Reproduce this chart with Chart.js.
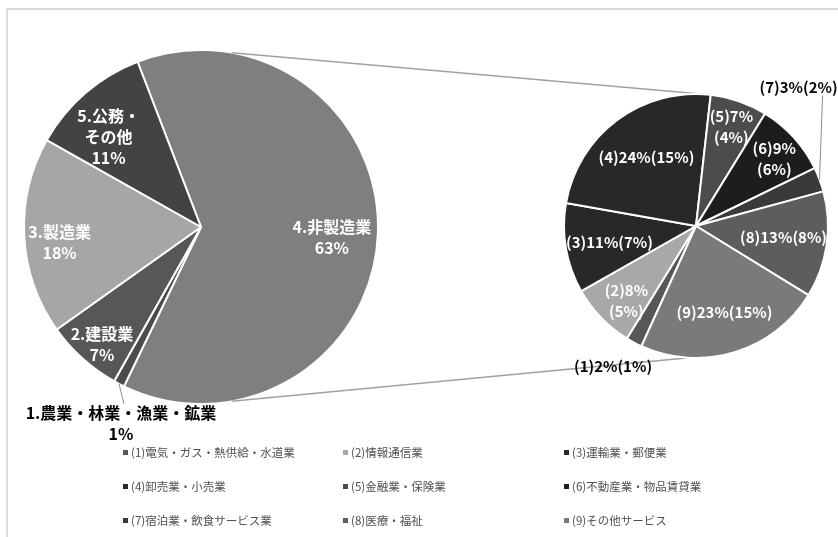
<!DOCTYPE html>
<html lang="ja">
<head>
<meta charset="utf-8">
<script src="https://cdn.jsdelivr.net/npm/chart.js@4.4.1/dist/chart.umd.min.js"></script>
<style>
  html, body { margin: 0; padding: 0; background: #fff; }
  #wrap { position: relative; width: 838px; height: 537px; overflow: hidden; font-family: "Noto Sans CJK JP", sans-serif; }
  #frame { position: absolute; left: 6px; top: 8px; width: 900px; height: 600px; border-left: 2px solid #dadada; border-top: 2px solid #dadada; }
  canvas { position: absolute; left: 0; top: 0; }
  .legend-item { position: absolute; font-size: 11.5px; line-height: 14px; color: #505050; white-space: nowrap; }
  .legend-item i { display: inline-block; width: 5px; height: 5px; margin-right: 3px; vertical-align: middle; position: relative; top: -1px; }
</style>
</head>
<body>
<div id="wrap">
  <div id="frame"></div>
  <canvas id="mainPie" width="838" height="537"></canvas>
  <canvas id="subPie" width="838" height="537"></canvas>
  <div id="legend"></div>
</div>
<script>
// 産業別構成比（左：全体、右：非製造業の内訳）
const mainNames = ['4.非製造業', '1.農業・林業・漁業・鉱業', '2.建設業', '3.製造業', '5.公務・\nその他'];
const mainShare = [63, 1, 7, 18, 11];
const mainColors = ['#7f7f7f', '#4b4b4b', '#575757', '#a6a6a6', '#434343'];

const subNames = ['電気・ガス・熱供給・水道業', '情報通信業', '運輸業・郵便業', '卸売業・小売業', '金融業・保険業',
                  '不動産業・物品賃貸業', '宿泊業・飲食サービス業', '医療・福祉', 'その他サービス'];
const subShare = [2, 8, 11, 24, 7, 9, 3, 13, 23];       // 非製造業内の構成比
const subTotalShare = [1, 5, 7, 15, 4, 6, 2, 8, 15];     // 全体に対する構成比
const subColors = ['#575757', '#a8a8a8', '#282828', '#282828', '#4c4c4c', '#1d1d1d', '#3a3a3a', '#5d5d5d', '#7a7a7a'];
const subWrap = [false, true, false, false, true, true, false, false, false];

// ラベル文字列
const mainText = mainNames.map((n, i) => [...n.split('\n'), mainShare[i] + '%']);
const subText = subShare.map((v, i) => {
    const head = '(' + (i + 1) + ')' + v + '%';
    const tail = '(' + subTotalShare[i] + '%)';
    return subWrap[i] ? [head, tail] : [head + tail];
});

// ラベル位置（半径比 r、外側ラベルは外周点からのずれ）
const mainPlace = [
    { r: 0.74, dx: 0, dy: 5 },
    { out: true, dx: 2, dy: 40, lx: 3, ly: -20 },
    { r: 0.87, dx: 4, dy: 3 },
    { r: 0.80, dx: 0, dy: 8 },
    { r: 0.73, dx: -8, dy: 8 }
];
const subPlace = [
    { out: true, dx: -21, dy: 24 },
    { r: 0.775, dx: 4, dy: 4 },
    { r: 0.665, dx: 0, dy: 1 },
    { r: 0.64, dx: 1, dy: -1 },
    { r: 0.80, dx: 1, dy: 1 },
    { r: 0.78, dx: 2, dy: 2 },
    { out: true, dx: -21, dy: -92, lx: 24, ly: 8 },
    { r: 0.67, dx: 0, dy: -1 },
    { r: 0.685, dx: 2, dy: 0 }
];

const FONT = '"Noto Sans CJK JP", "Noto Sans", sans-serif';

const sliceLabels = {
    id: 'sliceLabels',
    afterDatasetsDraw(chart, args, opts) {
        const ctx = chart.ctx;
        const arcs = chart.getDatasetMeta(0).data;
        ctx.save();
        ctx.textAlign = 'center';
        ctx.textBaseline = 'middle';
        ctx.font = 'bold ' + opts.size + 'px ' + FONT;
        arcs.forEach((arc, i) => {
            const p = opts.place[i];
            const lines = opts.text[i];
            const mid = (arc.startAngle + arc.endAngle) / 2;
            let x, y;
            if (p.out) {
                const ox = arc.x + Math.cos(mid) * arc.outerRadius;
                const oy = arc.y + Math.sin(mid) * arc.outerRadius;
                x = ox + p.dx;
                y = oy + p.dy;
                if (p.lx !== undefined) {
                    ctx.strokeStyle = '#8c8c8c';
                    ctx.lineWidth = 1;
                    ctx.beginPath();
                    ctx.moveTo(x + p.lx, y + p.ly);
                    ctx.lineTo(ox, oy);
                    ctx.stroke();
                }
                ctx.fillStyle = '#000';
            } else {
                x = arc.x + Math.cos(mid) * arc.outerRadius * p.r + p.dx;
                y = arc.y + Math.sin(mid) * arc.outerRadius * p.r + p.dy;
                ctx.fillStyle = '#fff';
            }
            lines.forEach((t, k) => {
                ctx.fillText(t, x, y + (k - (lines.length - 1) / 2) * opts.lineHeight);
            });
        });
        ctx.restore();
    }
};

// 左右の円を結ぶ線
const seriesLines = {
    id: 'seriesLines',
    beforeDatasetsDraw(chart) {
        const a = mainChart.getDatasetMeta(0).data[0];
        const b = chart.getDatasetMeta(0).data[0];
        const pt = (arc, deg) => {
            const t = (deg - 90) * Math.PI / 180;
            return [arc.x + Math.cos(t) * arc.outerRadius, arc.y + Math.sin(t) * arc.outerRadius];
        };
        const ctx = chart.ctx;
        ctx.save();
        ctx.strokeStyle = '#a0a0a0';
        ctx.lineWidth = 1.5;
        [[10, 6], [170, 183]].forEach(([da, db]) => {
            const p = pt(a, da), q = pt(b, db);
            ctx.beginPath();
            ctx.moveTo(p[0], p[1]);
            ctx.lineTo(q[0], q[1]);
            ctx.stroke();
        });
        ctx.restore();
    }
};

const baseOptions = {
    responsive: false,
    animation: false,
    events: [],
    plugins: { legend: { display: false }, tooltip: { enabled: false } }
};

const mainChart = new Chart(document.getElementById('mainPie'), {
    type: 'pie',
    data: {
        labels: mainNames,
        datasets: [{
            data: mainShare,
            backgroundColor: mainColors,
            borderColor: '#fff',
            borderWidth: 2
        }]
    },
    options: {
        ...baseOptions,
        rotation: -21,
        radius: 177,
        layout: { padding: { left: 14, right: 450, top: 49, bottom: 132 } },
        plugins: {
            ...baseOptions.plugins,
            sliceLabels: { text: mainText, place: mainPlace, size: 16, lineHeight: 21 }
        }
    },
    plugins: [sliceLabels]
});

const subChart = new Chart(document.getElementById('subPie'), {
    type: 'pie',
    data: {
        labels: subNames,
        datasets: [{
            data: subShare,
            backgroundColor: subColors,
            borderColor: '#fff',
            borderWidth: 2
        }]
    },
    options: {
        ...baseOptions,
        rotation: -155.6,
        radius: 132,
        layout: { padding: { left: 562, right: 8, top: 93, bottom: 178 } },
        plugins: {
            ...baseOptions.plugins,
            sliceLabels: { text: subText, place: subPlace, size: 15, lineHeight: 21 }
        }
    },
    plugins: [seriesLines, sliceLabels]
});

// 凡例（3列×3行）
const legendCols = [123, 343, 564];
const legendRows = [452, 486, 520];
const legend = document.getElementById('legend');
subNames.forEach((n, i) => {
    const el = document.createElement('div');
    el.className = 'legend-item';
    el.style.left = legendCols[i % 3] + 'px';
    el.style.top = (legendRows[Math.floor(i / 3)] - 7) + 'px';
    el.innerHTML = '<i style="background:' + subColors[i] + '"></i>(' + (i + 1) + ')' + n;
    legend.appendChild(el);
});
</script>
</body>
</html>
